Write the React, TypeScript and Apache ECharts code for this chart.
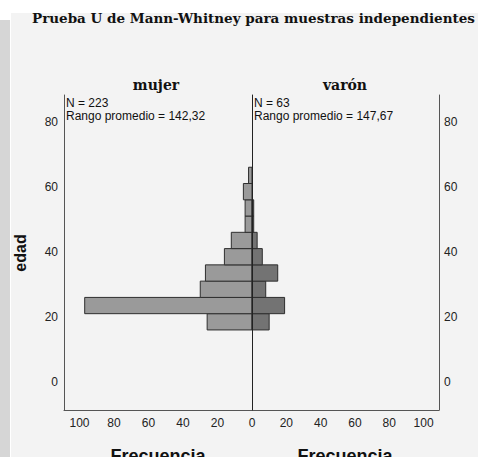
import React, { useEffect, useRef } from 'react';
import * as echarts from 'echarts';

// Age bins (edad), width 5 years, lower edges
const binStarts = [16, 21, 26, 31, 36, 41, 46, 51, 56, 61];
const binWidth = 5;
// Frequencies per bin
const mujerCounts = [26, 97, 30, 27, 16, 12, 4, 4, 5, 2];
const varonCounts = [10, 19, 8, 15, 6, 3, 1, 1, 0, 0];

const titleText = 'Prueba U de Mann-Whitney para muestras independientes';
const groupNames = ['mujer', 'varón'];
const groupN = ['N = 223', 'N = 63'];
const groupRank = ['Rango promedio = 142,32', 'Rango promedio = 147,67'];
const yAxisTitle = 'edad';
const xAxisTitle = 'Frecuencia';

const Y_MIN = -8.6;
const Y_MAX = 88.2;
const X_MAX = 109;

const sans = 'Liberation Sans, Arial, sans-serif';
const serif = 'DejaVu Serif, serif';

function makeData(counts: number[]) {
  return binStarts.map((s, i) => [s, s + binWidth, counts[i]]);
}

function histSeries(gridIdx: number, yIdx: number, counts: number[], fill: string) {
  return {
    type: 'custom',
    xAxisIndex: gridIdx,
    yAxisIndex: yIdx,
    data: makeData(counts),
    encode: { x: 2, y: [0, 1] },
    z: 2,
    renderItem: (params: any, api: any) => {
      const start = api.value(0);
      const end = api.value(1);
      const count = api.value(2);
      if (!count) return null;
      const p0 = api.coord([0, start]);
      const p1 = api.coord([count, end]);
      return {
        type: 'rect',
        shape: {
          x: Math.min(p0[0], p1[0]),
          y: Math.min(p0[1], p1[1]),
          width: Math.abs(p1[0] - p0[0]),
          height: Math.abs(p1[1] - p0[1]),
        },
        style: { fill, stroke: '#2e2e2e', lineWidth: 1 },
      };
    },
  };
}

const axisLine = { show: true, onZero: false, lineStyle: { color: '#555', width: 1 } };
const labelStyle = { color: '#222', fontFamily: sans, fontSize: 12 };
const yFormatter = (v: number) => (Math.abs(v % 20) < 1e-9 ? String(v) : '');

export default function App() {
  const ref = useRef<HTMLDivElement>(null);
  useEffect(() => {
    document.body.style.margin = '0';
    if (!ref.current) return;
    const chart = echarts.init(ref.current, undefined, { renderer: 'svg' });
    const option: any = {
      animation: false,
      backgroundColor: '#ffffff',
      grid: [
        { left: 64, top: 95, width: 188, height: 315 },
        { left: 252, top: 95, width: 187, height: 315 },
      ],
      xAxis: [
        {
          type: 'value', gridIndex: 0, inverse: true, min: 0, max: X_MAX, interval: 20,
          axisLine, axisTick: { show: false }, splitLine: { show: false },
          axisLabel: { ...labelStyle, margin: 7, showMaxLabel: false },
        },
        {
          type: 'value', gridIndex: 1, min: 0, max: X_MAX, interval: 20,
          axisLine, axisTick: { show: false }, splitLine: { show: false },
          axisLabel: { ...labelStyle, margin: 7, showMinLabel: false, showMaxLabel: false },
        },
      ],
      yAxis: [
        {
          type: 'value', gridIndex: 0, position: 'left', min: Y_MIN, max: Y_MAX, splitNumber: 5,
          axisLine, axisTick: { show: false }, splitLine: { show: false },
          axisLabel: { ...labelStyle, margin: 6, formatter: yFormatter },
        },
        {
          type: 'value', gridIndex: 1, position: 'left', min: Y_MIN, max: Y_MAX, splitNumber: 5,
          axisLine: { show: true, onZero: false, lineStyle: { color: '#222', width: 1 } }, z: 5,
          axisTick: { show: false }, splitLine: { show: false }, axisLabel: { show: false },
        },
        {
          type: 'value', gridIndex: 1, position: 'right', min: Y_MIN, max: Y_MAX, splitNumber: 5,
          axisLine, axisTick: { show: false }, splitLine: { show: false },
          axisLabel: { ...labelStyle, margin: 5, formatter: yFormatter },
        },
      ],
      graphic: [
        { type: 'rect', z: -10, shape: { x: 0, y: 20, width: 10, height: 437 }, style: { fill: '#d6d6d6' } },
        { type: 'rect', z: -10, shape: { x: 11, y: 13, width: 467, height: 444 }, style: { fill: '#f3f3f3' } },
        {
          type: 'text', x: 32, y: 18, z: 10,
          style: { text: titleText, font: `bold 13.5px ${serif}`, fill: '#111', verticalAlign: 'middle' },
        },
        {
          type: 'text', x: 156, y: 85, z: 10,
          style: { text: groupNames[0], font: `bold 14px ${serif}`, fill: '#111', align: 'center', verticalAlign: 'middle' },
        },
        {
          type: 'text', x: 345, y: 85, z: 10,
          style: { text: groupNames[1], font: `bold 14px ${serif}`, fill: '#111', align: 'center', verticalAlign: 'middle' },
        },
        {
          type: 'text', x: 66, y: 97, z: 10,
          style: { text: groupN[0], font: `12px ${sans}`, fill: '#111', verticalAlign: 'top' },
        },
        {
          type: 'text', x: 66, y: 110, z: 10,
          style: { text: groupRank[0], font: `12px ${sans}`, fill: '#111', verticalAlign: 'top' },
        },
        {
          type: 'text', x: 254, y: 97, z: 10,
          style: { text: groupN[1], font: `12px ${sans}`, fill: '#111', verticalAlign: 'top' },
        },
        {
          type: 'text', x: 254, y: 110, z: 10,
          style: { text: groupRank[1], font: `12px ${sans}`, fill: '#111', verticalAlign: 'top' },
        },
        {
          type: 'text', x: 20, y: 253, rotation: Math.PI / 2, z: 10,
          style: { text: yAxisTitle, font: `bold 16px ${sans}`, fill: '#111', align: 'center', verticalAlign: 'middle' },
        },
        {
          type: 'text', x: 158, y: 447, z: 10,
          style: { text: xAxisTitle, font: `bold 18px ${sans}`, fill: '#111', align: 'center', verticalAlign: 'top' },
        },
        {
          type: 'text', x: 345, y: 447, z: 10,
          style: { text: xAxisTitle, font: `bold 18px ${sans}`, fill: '#111', align: 'center', verticalAlign: 'top' },
        },
      ],
      series: [
        histSeries(0, 0, mujerCounts, '#9a9a9a'),
        histSeries(1, 1, varonCounts, '#737373'),
      ],
    };
    chart.setOption(option);
    return () => chart.dispose();
  }, []);
  return <div ref={ref} style={{ width: 478, height: 457 }} />;
}
